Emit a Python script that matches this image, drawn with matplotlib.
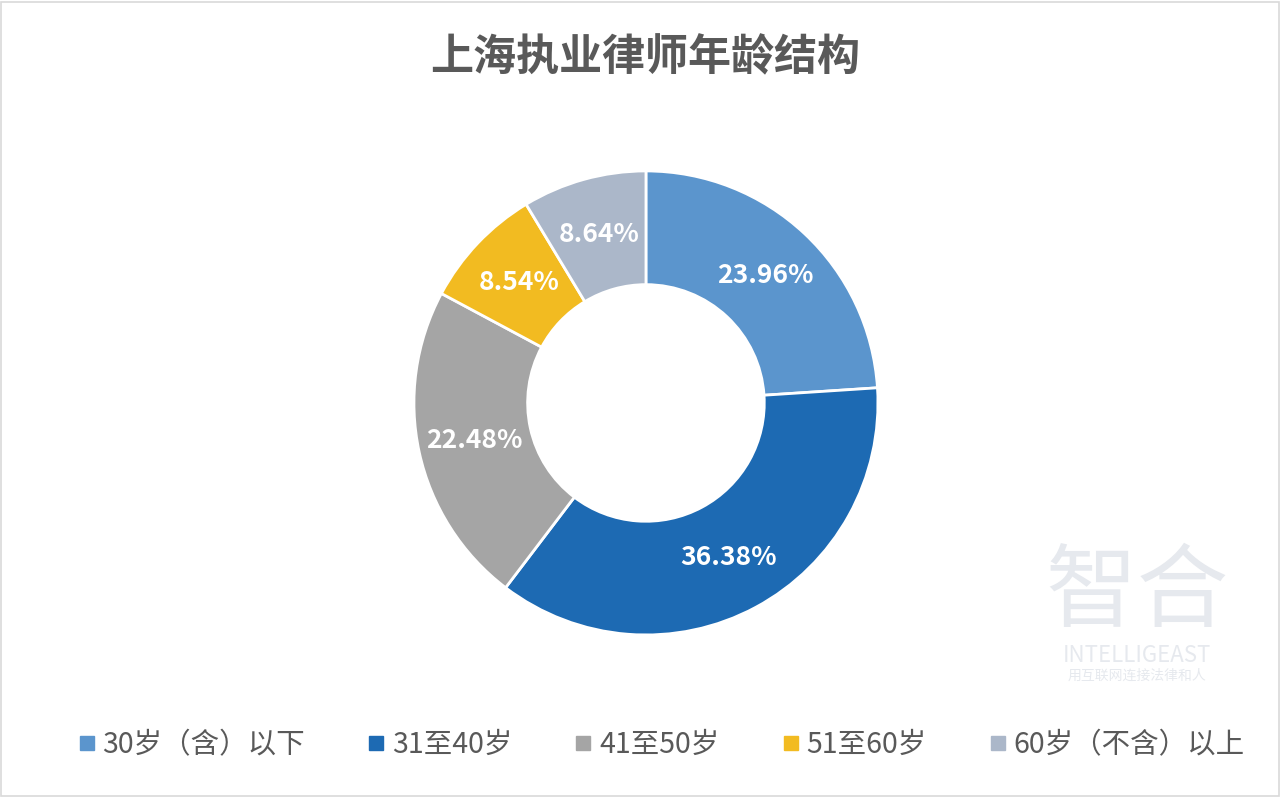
import matplotlib.pyplot as plt
from matplotlib.patches import Rectangle

plt.rcParams['font.family'] = ['Noto Sans CJK SC', 'DejaVu Sans']

categories = ["30岁（含）以下", "31至40岁", "41至50岁", "51至60岁", "60岁（不含）以上"]
shares = [23.96, 36.38, 22.48, 8.54, 8.64]
colors = ["#5b95cd", "#1d6ab3", "#a5a5a5", "#f2bb21", "#abb7c9"]

fig = plt.figure(figsize=(12.8, 7.98), dpi=100)
fig.patches.append(Rectangle((0.001, 0.002), 0.998, 0.996, transform=fig.transFigure,
                             fill=False, edgecolor="#d9d9d9", linewidth=1.2))

# donut axes, sized so radius 1 = ~232 px
ax = fig.add_axes([0.3234, 0.2043, 0.3625, 0.5815])
wedges, texts, autotexts = ax.pie(
    shares, colors=colors, startangle=90, counterclock=False, radius=1,
    autopct=lambda p: f"{p:.2f}%", pctdistance=0.755,
    wedgeprops=dict(width=0.49, edgecolor="white", linewidth=2),
)
for t in autotexts:
    t.set_color("white")
    t.set_fontsize(19)
    t.set_fontweight("bold")
ax.set_xlim(-1.0, 1.0)
ax.set_ylim(-1.0, 1.0)
ax.axis("off")

fig.text(0.504, 0.928, "上海执业律师年龄结构", ha="center", va="center",
         fontsize=31, fontweight="bold", color="#595959")

# watermark
fig.text(0.888, 0.256, "智合", ha="center", va="center", fontsize=66, color="#e6e9ee")
fig.text(0.888, 0.178, "INTELLIGEAST", ha="center", va="center", fontsize=16, color="#e6e9ee")
fig.text(0.888, 0.153, "用互联网连接法律和人", ha="center", va="center", fontsize=10, color="#e6e9ee")

handles = [plt.Line2D([], [], marker="s", linestyle="", markersize=10,
                      markerfacecolor=c, markeredgecolor=c) for c in colors]
fig.legend(handles, categories, loc="center", bbox_to_anchor=(0.515, 0.066), ncol=5,
           frameon=False, fontsize=20.5, labelcolor="#595959", handletextpad=0.1,
           columnspacing=2.05, handlelength=0.9)

plt.savefig("out.png", dpi=100)
